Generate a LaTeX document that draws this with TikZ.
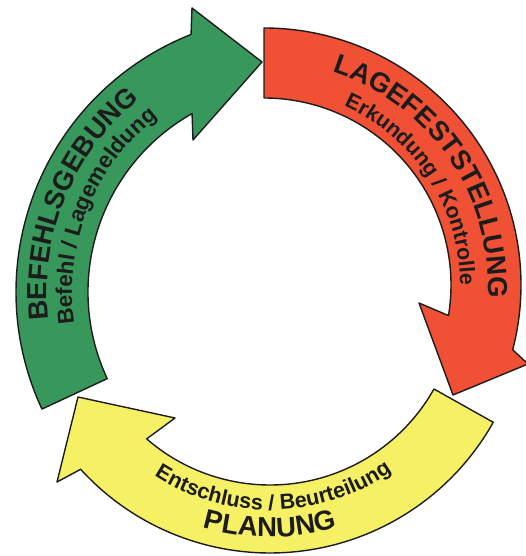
\documentclass[tikz,border=0pt]{standalone}
\usepackage{fontspec}
\setmainfont{Liberation Sans}
\usetikzlibrary{decorations.text,calc}
\definecolor{cgreen}{RGB}{56,152,92}
\definecolor{cred}{RGB}{240,80,52}
\definecolor{cyellow}{RGB}{246,240,100}
\definecolor{cink}{RGB}{28,28,28}
\newcommand\fontBig{\fontsize{27.5}{30}\selectfont\bfseries}
\newcommand\fontSmall{\fontsize{21.5}{24}\selectfont\bfseries}
\newcommand\fontSmallG{\fontsize{22.5}{25}\selectfont\bfseries}
\tikzset{
  arrowshape/.style={draw=cink, line width=1.4pt, line join=round},
  curvedtext/.style={decorate, decoration={text along path, text align=center, text color=cink, text={#1}}}
}
\begin{document}
\begin{tikzpicture}[x=1pt,y=1pt]
\useasboundingbox[fill=white] (0,0) rectangle (525,556);
\coordinate (G) at (293,264);
\coordinate (R) at (264,271);
\coordinate (Y) at (270,259);
% green arrow
\coordinate (gob) at (192,548);
\coordinate (gtip) at (262,494);
\coordinate (gib) at (193,416);
\filldraw[arrowshape, fill=cgreen]
  ($(G)+(205:277pt)$) arc[start angle=205, end angle=111.6, radius=277pt]
  -- (gob) -- (gtip) -- (gib)
  -- ($(G)+(119.5:205pt)$) arc[start angle=119.5, end angle=205, radius=205pt] -- cycle;
% red arrow
\coordinate (rob) at (528,192);
\coordinate (rtip) at (453,161);
\coordinate (rib) at (419,253);
\filldraw[arrowshape, fill=cred]
  ($(R)+(90:257pt)$) arc[start angle=90, end angle=-14.6, radius=257pt]
  -- (rob) -- (rtip) -- (rib)
  -- ($(R)+(-9.4:187pt)$) arc[start angle=-9.4, end angle=90, radius=187pt] -- cycle;
% yellow arrow
\coordinate (yob) at (57,74);
\coordinate (ytip) at (78,159);
\coordinate (yib) at (175,138);
\filldraw[arrowshape, fill=cyellow]
  ($(Y)+(-29.3:256pt)$) arc[start angle=-29.3, end angle=-137.7, radius=256pt]
  -- (yob) -- (ytip) -- (yib)
  -- ($(Y)+(229:188pt)$) arc[start angle=229, end angle=330.7, radius=188pt] -- cycle;
% texts
\path[curvedtext={|\fontBig|BEFEHLSGEBUNG}] ($(G)+(205:246pt)$) arc[start angle=205, end angle=110, radius=246pt];
\path[curvedtext={|\fontSmallG|Befehl / Lagemeldung}] ($(G)+(206:221pt)$) arc[start angle=206, end angle=110, radius=221pt];
\path[curvedtext={|\fontBig|LAGEFESTSTELLUNG}] ($(R)+(80:224pt)$) arc[start angle=80, end angle=-11, radius=224pt];
\path[curvedtext={|\fontSmall|Erkundung / Kontrolle}] ($(R)+(78:196pt)$) arc[start angle=78, end angle=-12, radius=196pt];
\path[curvedtext={|\fontBig|PLANUNG}] ($(Y)+(225:240pt)$) arc[start angle=225, end angle=315, radius=240pt];
\path[curvedtext={|\fontSmall|Entschluss / Beurteilung}] ($(Y)+(226:213pt)$) arc[start angle=226, end angle=316, radius=213pt];
\end{tikzpicture}
\end{document}
